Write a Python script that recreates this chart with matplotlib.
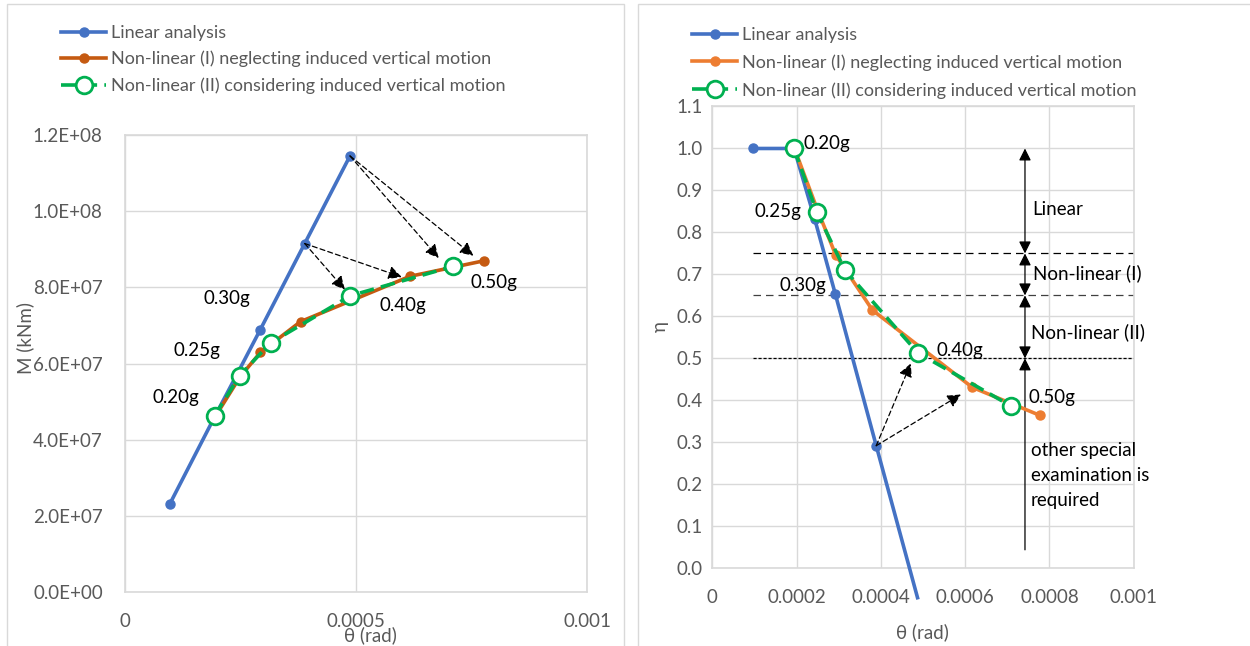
import matplotlib
matplotlib.use("Agg")
import matplotlib.pyplot as plt
from matplotlib.patches import Rectangle
from matplotlib.ticker import FuncFormatter, FixedLocator

plt.rcParams['font.family'] = ['Lato', 'DejaVu Sans']

# linear analysis, PGA 0.10g .. 0.50g
theta_lin = [0.0000965, 0.000194, 0.000243, 0.000292, 0.000389, 0.000487]
M_lin = [2.30e7, 4.60e7, 5.73e7, 6.87e7, 9.15e7, 1.145e8]
eta_lin = [1.0, 1.0, 0.832, 0.653, 0.292, -0.07]

# non-linear (I), PGA 0.20, 0.25, 0.30, 0.35, 0.40, 0.50g
theta_nl1 = [0.000195, 0.000249, 0.000293, 0.000380, 0.000617, 0.000778]
M_nl1 = [4.60e7, 5.65e7, 6.29e7, 7.10e7, 8.29e7, 8.70e7]
eta_nl1 = [1.0, 0.855, 0.746, 0.615, 0.431, 0.364]

# non-linear (II), PGA 0.20, 0.25, 0.30, 0.40, 0.50g
theta_nl2 = [0.000194, 0.000248, 0.000315, 0.000488, 0.000710]
M_nl2 = [4.63e7, 5.68e7, 6.54e7, 7.78e7, 8.55e7]
eta_nl2 = [1.0, 0.848, 0.710, 0.513, 0.386]

pga_labels = ['0.20g', '0.25g', '0.30g', '0.40g', '0.50g']
# label anchor points (theta, value) for each panel
lab_left = [(0.0001105, 5.10e7), (0.0001553, 6.33e7), (0.0002203, 7.70e7),
            (0.0006015, 7.53e7), (0.0007977, 8.12e7)]
lab_right = [(0.0002715, 1.012), (0.0001566, 0.851), (0.000216, 0.673),
             (0.000588, 0.518), (0.000805, 0.406)]

# arrow heads: linear point index -> target point
arrows_left = [(5, (0.000679, 8.77e7)), (5, (0.000754, 8.83e7)),
               (4, (0.000476, 7.94e7)), (4, (0.000599, 8.27e7))]
arrows_right = [(4, (0.000471, 0.488)), (4, (0.000590, 0.414))]

# limit-state bands on the eta plot
band_levels = [0.75, 0.65, 0.5]
band_x = 0.000742

BLUE = '#4472C4'
ORANGE_DK = '#C55A11'
ORANGE = '#ED7D31'
GREEN = '#00B050'
GRID = '#d9d9d9'
TXT = '#595959'
FS = 13.5

fig = plt.figure(figsize=(12.5, 6.46), dpi=100)

# chart area borders
fig.add_artist(Rectangle((7 / 1250, -0.1), 617 / 1250, 1 - 4 / 646 + 0.1,
                         transform=fig.transFigure, fill=False, ec=GRID, lw=1))
fig.add_artist(Rectangle((637.5 / 1250, -0.1), 0.6, 1 - 4 / 646 + 0.1,
                         transform=fig.transFigure, fill=False, ec=GRID, lw=1))

ax1 = fig.add_axes([125 / 1250, 54 / 646, 462 / 1250, 457 / 646])
ax2 = fig.add_axes([712.3 / 1250, 77.7 / 646, 421.4 / 1250, 461.8 / 646])


def style_axes(ax):
    ax.grid(True, color=GRID, lw=1)
    ax.set_axisbelow(True)
    for s in ax.spines.values():
        s.set_color(GRID)
        s.set_linewidth(1.2)
    ax.tick_params(length=0, labelsize=FS, labelcolor=TXT)


def dashed_arrow(ax, start, end):
    ax.annotate('', xy=end, xytext=start,
                arrowprops=dict(arrowstyle='-|>', color='black', lw=0.9,
                                ls=(0, (4, 2.5)), mutation_scale=20,
                                shrinkA=0, shrinkB=0))


def legend(ax, x, y, spacing):
    leg = ax.legend(loc='upper left', bbox_to_anchor=(x / 1250, 1 - y / 646),
                    bbox_transform=fig.transFigure, frameon=False,
                    fontsize=13, handlelength=2.5, handletextpad=0.25,
                    labelspacing=spacing, borderpad=0, borderaxespad=0)
    for t in leg.get_texts():
        t.set_color(TXT)


# ---- left: moment vs rotation ----
style_axes(ax1)
ax1.plot(theta_lin, M_lin, color=BLUE, lw=2.6, marker='o', ms=6.5,
         label='Linear analysis', zorder=3)
ax1.plot(theta_nl1, M_nl1, color=ORANGE_DK, lw=2.6, marker='o', ms=6.5,
         label='Non-linear (I) neglecting induced vertical motion', zorder=4)
ax1.plot(theta_nl2, M_nl2, color=GREEN, lw=2.6, ls=(0, (4, 2)), marker='o',
         ms=12, mfc='white', mec=GREEN, mew=2,
         label='Non-linear (II) considering induced vertical motion', zorder=5)
ax1.set_xlim(0, 0.001)
ax1.set_ylim(0, 1.2e8)
ax1.xaxis.set_major_locator(FixedLocator([0, 0.0005, 0.001]))
ax1.xaxis.set_major_formatter(FuncFormatter(lambda v, p: f'{v:g}'))
ax1.yaxis.set_major_locator(FixedLocator([i * 2e7 for i in range(7)]))
ax1.yaxis.set_major_formatter(FuncFormatter(lambda v, p: f'{v:.1E}'))
ax1.tick_params(axis='x', pad=15)
ax1.tick_params(axis='y', pad=16)
for lab, (tx, ty) in zip(pga_labels, lab_left):
    ax1.text(tx, ty, lab, fontsize=FS, ha='center', va='center', color='black')
for i, end in arrows_left:
    dashed_arrow(ax1, (theta_lin[i], M_lin[i]), end)
fig.text(370 / 1250, 1 - 635 / 646, '\u03b8 (rad)', fontsize=FS, color=TXT,
         ha='center', va='center')
fig.text(25 / 1250, 1 - 338 / 646, 'M (kNm)', fontsize=FS, color=TXT,
         ha='center', va='center', rotation=90)
legend(ax1, 61, 25, 0.55)

# ---- right: eta vs rotation ----
style_axes(ax2)
ax2.plot(theta_lin, eta_lin, color=BLUE, lw=2.6, zorder=3, clip_on=False)
ax2.plot(theta_lin[:-1], eta_lin[:-1], color=BLUE, lw=0, marker='o', ms=6.5,
         zorder=3)
ax2.plot([], [], color=BLUE, lw=2.6, marker='o', ms=6.5, label='Linear analysis')
ax2.plot(theta_nl1, eta_nl1, color=ORANGE, lw=2.6, marker='o', ms=6.5,
         label='Non-linear (I) neglecting induced vertical motion', zorder=4)
ax2.plot(theta_nl2, eta_nl2, color=GREEN, lw=2.6, ls=(0, (4, 2)), marker='o',
         ms=12, mfc='white', mec=GREEN, mew=2,
         label='Non-linear (II) considering induced vertical motion', zorder=5)
ax2.set_xlim(0, 0.001)
ax2.set_ylim(0, 1.1)
ax2.xaxis.set_major_locator(FixedLocator([0, 0.0002, 0.0004, 0.0006, 0.0008, 0.001]))
ax2.xaxis.set_major_formatter(FuncFormatter(lambda v, p: f'{v:g}'))
ax2.yaxis.set_major_locator(FixedLocator([i / 10 for i in range(12)]))
ax2.yaxis.set_major_formatter(FuncFormatter(lambda v, p: f'{v:.1f}'))
ax2.tick_params(axis='x', pad=15)
ax2.tick_params(axis='y', pad=7)

x0 = theta_lin[0]
ax2.plot([x0, 0.001], [band_levels[0]] * 2, color='black', lw=0.9, ls=(0, (6, 4)))
ax2.plot([x0, 0.001], [band_levels[1]] * 2, color='#404040', lw=0.9, ls=(0, (6, 4)))
ax2.plot([x0, 0.001], [band_levels[2]] * 2, color='black', lw=0.9, ls=(0, (2.5, 1.5)))

tops = [1.0] + band_levels
for hi, lo in zip(tops[:-1], tops[1:]):
    ax2.annotate('', xy=(band_x, hi), xytext=(band_x, lo),
                 arrowprops=dict(arrowstyle='<|-|>', color='black', lw=0.9,
                                 mutation_scale=18, shrinkA=0, shrinkB=0))
ax2.annotate('', xy=(band_x, band_levels[-1]), xytext=(band_x, 0.044),
             arrowprops=dict(arrowstyle='-|>', color='black', lw=0.9,
                             mutation_scale=18, shrinkA=0, shrinkB=0))

for lab, (tx, ty) in zip(pga_labels, lab_right):
    ax2.text(tx, ty, lab, fontsize=FS, ha='center', va='center', color='black')
ax2.text(0.00082, 0.855, 'Linear', fontsize=FS, ha='center', va='center')
ax2.text(0.00076, 0.702, 'Non-linear (I)', fontsize=FS, ha='left', va='center',
         clip_on=False)
ax2.text(0.000756, 0.563, 'Non-linear (II)', fontsize=FS, ha='left', va='center',
         clip_on=False)
ax2.text(0.000756, 0.284 + 0.018, 'other special\nexamination is\nrequired',
         fontsize=FS, ha='left', va='top', linespacing=1.6)
for i, end in arrows_right:
    dashed_arrow(ax2, (theta_lin[i], eta_lin[i]), end)

fig.text(922 / 1250, 1 - 632 / 646, '\u03b8 (rad)', fontsize=FS, color=TXT,
         ha='center', va='center')
fig.text(660 / 1250, 1 - 327 / 646, '\u03b7', fontsize=FS, color=TXT,
         ha='center', va='center', rotation=90)
legend(ax2, 692, 27, 0.62)

fig.savefig('out.png', dpi=100)
